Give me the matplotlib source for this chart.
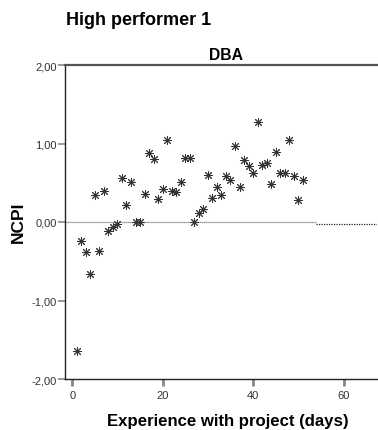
import matplotlib
matplotlib.use("Agg")
import matplotlib.pyplot as plt
from matplotlib.ticker import FuncFormatter

plt.rcParams['font.family'] = ['Liberation Sans', 'DejaVu Sans']

days = list(range(1, 52))
ncpi = [-1.64, -0.24, -0.38, -0.66, 0.34, -0.37, 0.40, -0.12, -0.06, -0.03,
        0.56, 0.22, 0.51, 0.00, 0.00, 0.36, 0.88, 0.80, 0.29, 0.42,
        1.04, 0.39, 0.38, 0.51, 0.82, 0.82, 0.00, 0.11, 0.17, 0.60,
        0.30, 0.45, 0.34, 0.58, 0.54, 0.97, 0.45, 0.79, 0.71, 0.63,
        1.28, 0.72, 0.75, 0.49, 0.89, 0.63, 0.63, 1.04, 0.58, 0.28, 0.53]
x_ticks = [0, 20, 40, 60]
y_ticks = [-2, -1, 0, 1, 2]
ref_split = 53.8

W, H = 378, 431
fig = plt.figure(figsize=(W / 100, H / 100), dpi=100)
ax = fig.add_axes([65 / W, 1 - 380 / H, (377 - 65) / W, (380 - 66) / H])

ax.set_xlim(-1.6, 67.4)
ax.set_ylim(-2, 2)

ax.hlines(0, -1.6, ref_split, colors='#777777', linestyles=(0, (1, 0.6)), linewidth=0.9, zorder=1)
ax.hlines(-0.02, ref_split + 0.1, 67.4, colors='#222222', linestyles=(0, (1, 1)), linewidth=0.9, zorder=1)

ax.plot(days, ncpi, linestyle='none', marker=(8, 2, 0), markersize=6.5,
        markeredgecolor='#333333', markeredgewidth=0.7, zorder=3)

ax.set_xticks(x_ticks)
ax.set_yticks(y_ticks)
ax.yaxis.set_major_formatter(FuncFormatter(lambda v, p: f"{v:.2f}".replace('.', ',')))
ax.tick_params(axis='y', direction='out', length=5, width=1.2, color='#888888',
               labelsize=8, labelcolor='#333333', pad=1)
ax.tick_params(axis='x', direction='out', length=5, width=2, color='#888888',
               labelsize=8, labelcolor='#333333', pad=3)

for s in ['left', 'bottom']:
    ax.spines[s].set_color('#222222')
    ax.spines[s].set_linewidth(1.0)
ax.spines['top'].set_color('#555555')
ax.spines['top'].set_linewidth(1.6)
ax.spines['right'].set_visible(False)

fig.text(66 / W, 1 - 25 / H, "High performer 1", fontsize=13, fontweight='bold',
         ha='left', va='baseline')
fig.text(226 / W, 1 - 60.5 / H, "DBA", fontsize=11.3, fontweight='bold',
         ha='center', va='baseline')
fig.text(228 / W, 1 - 426.5 / H, "Experience with project (days)", fontsize=12.1,
         fontweight='bold', ha='center', va='baseline')
fig.text(18 / W, 1 - 222 / H, "NCPI", fontsize=12.5, fontweight='bold',
         ha='center', va='center', rotation=90)

fig.savefig("out.png", dpi=100)
